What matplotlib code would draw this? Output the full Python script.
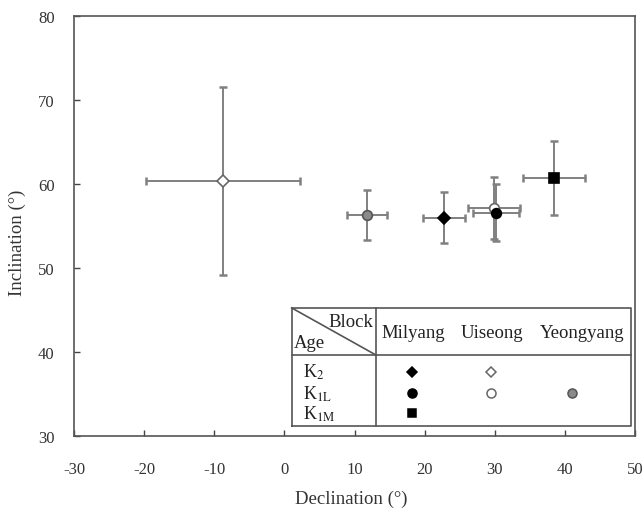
import matplotlib
matplotlib.use("Agg")
import matplotlib.pyplot as plt
from matplotlib.lines import Line2D

plt.rcParams['font.family'] = ['Liberation Serif', 'DejaVu Serif']
plt.rcParams['mathtext.fontset'] = 'stix'
plt.rcParams['axes.unicode_minus'] = False

# Data: block, age, declination, inclination, dec error, inc error
blocks = ['Uiseong', 'Yeongyang', 'Milyang', 'Uiseong', 'Milyang', 'Milyang']
ages = ['K2', 'K1L', 'K2', 'K1L', 'K1L', 'K1M']
declination = [-8.8, 11.8, 22.8, 29.9, 30.2, 38.4]
inclination = [60.4, 56.3, 56.0, 57.1, 56.6, 60.7]
dec_err = [11.0, 2.9, 3.0, 3.7, 3.3, 4.4]
inc_err = [11.2, 3.0, 3.0, 3.7, 3.4, 4.4]

legend_blocks = ['Milyang', 'Uiseong', 'Yeongyang']
legend_ages = ['K2', 'K1L', 'K1M']
age_labels = {'K2': r'K$_{\mathrm{2}}$', 'K1L': r'K$_{\mathrm{1L}}$', 'K1M': r'K$_{\mathrm{1M}}$'}

xticks = [-30, -20, -10, 0, 10, 20, 30, 40, 50]
yticks = [30, 40, 50, 60, 70, 80]

def style(block, age):
    marker = {'K2': 'D', 'K1L': 'o', 'K1M': 's'}[age]
    if block == 'Milyang':
        fc, ec = 'black', 'black'
    elif block == 'Uiseong':
        fc, ec = 'white', '#666666'
    else:
        fc, ec = '#8a8a8a', '#555555'
    size = {'D': 6, 'o': 7, 's': 6.5}[marker]
    return marker, fc, ec, size

fig = plt.figure(figsize=(6.44, 5.10), dpi=100)
ax = fig.add_axes([74/644, 1-437/510, 561/644, 420/510])

for b, a, x, y, dx, dy in zip(blocks, ages, declination, inclination, dec_err, inc_err):
    m, fc, ec, s = style(b, a)
    ax.errorbar(x, y, xerr=dx, yerr=dy, fmt='none', ecolor='#808080',
                elinewidth=1.4, capsize=3, capthick=1.8, zorder=2)
    ax.plot([x], [y], marker=m, markersize=s, markerfacecolor=fc,
            markeredgecolor=ec, markeredgewidth=1.2, linestyle='none', zorder=3)

ax.set_xlim(-30, 50)
ax.set_ylim(30, 80)
ax.set_xticks(xticks)
ax.set_yticks(yticks)
ax.tick_params(direction='in', length=4, width=1, colors='#444444',
               labelsize=12, labelcolor='#333333')
ax.tick_params(axis='x', pad=18)
ax.tick_params(axis='y', pad=14)
for sp in ax.spines.values():
    sp.set_color('#555555')
    sp.set_linewidth(1.2)
ax.set_xlabel('Declination (°)', fontsize=13.5, color='#333333')
ax.set_ylabel('Inclination (°)', fontsize=13.5, color='#333333')
ax.xaxis.set_label_coords(0.495, -0.128)
ax.yaxis.set_label_coords(-0.085, 0.462)

# Legend table (axes fraction)
tr = ax.transAxes
x0, x1 = 0.388, 0.993
y0, y1 = 0.0245, 0.305
yh = 0.193
xv = 0.538
lc = '#555555'
for xs, ys in [([x0, x1, x1, x0, x0], [y0, y0, y1, y1, y0]),
               ([x0, x1], [yh, yh]),
               ([xv, xv], [y0, y1]),
               ([x0, xv], [y1, yh])]:
    ax.add_line(Line2D(xs, ys, transform=tr, color=lc, linewidth=1.2, zorder=5))

ax.text(xv - 0.004, 0.272, 'Block', transform=tr, ha='right', va='center',
        fontsize=13.5, color='#222222', zorder=6)
ax.text(x0 + 0.004, 0.222, 'Age', transform=tr, ha='left', va='center',
        fontsize=13.5, color='#222222', zorder=6)

col_x = [0.604, 0.745, 0.906]
mark_x = [0.603, 0.743, 0.888]
row_y = [0.153, 0.102, 0.055]
for bx, bl in zip(col_x, legend_blocks):
    ax.text(bx, 0.247, bl, transform=tr, ha='center', va='center',
            fontsize=13.5, color='#222222', zorder=6)
for ry, ag in zip(row_y, legend_ages):
    ax.text(x0 + 0.02, ry, age_labels[ag], transform=tr, ha='left', va='center',
            fontsize=13, color='#222222', zorder=6)

for b, a in zip(blocks, ages):
    m, fc, ec, s = style(b, a)
    mx = mark_x[legend_blocks.index(b)]
    my = row_y[legend_ages.index(a)]
    ax.plot([mx], [my], marker=m, markersize=s - 0.5, markerfacecolor=fc,
            markeredgecolor=ec, markeredgewidth=1.1, transform=tr,
            linestyle='none', zorder=6)

fig.savefig('out.png', dpi=100)
